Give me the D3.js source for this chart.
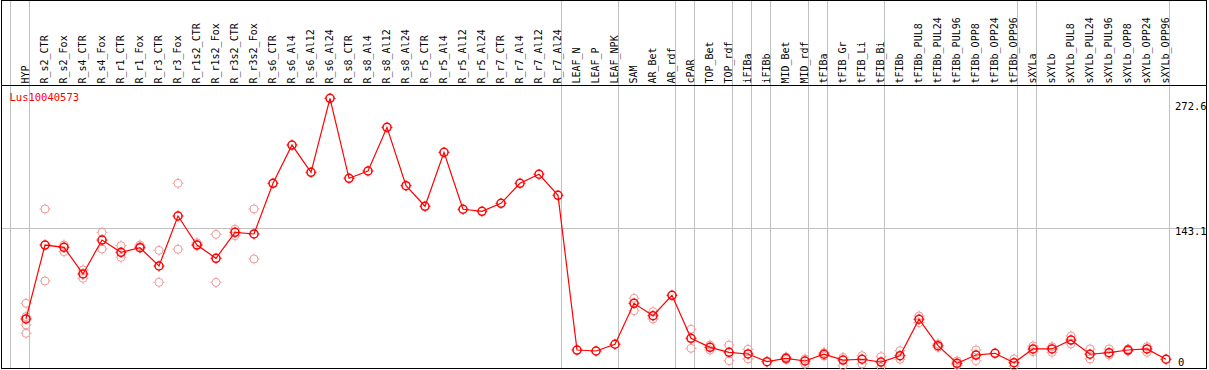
<!DOCTYPE html>
<html><head><meta charset="utf-8">
<script src="https://cdn.jsdelivr.net/npm/d3@7"></script>
<style>body{margin:0;background:#fff}svg{display:block}</style>
</head><body><svg id="c" width="1209" height="370"></svg>
<script>
const title = "Lus10040573";
const categories = ["HYP","R_s2_CTR","R_s2_Fox","R_s4_CTR","R_s4_Fox","R_r1_CTR","R_r1_Fox","R_r3_CTR","R_r3_Fox","R_r1s2_CTR","R_r1s2_Fox","R_r3s2_CTR","R_r3s2_Fox","R_s6_CTR","R_s6_Al4","R_s6_Al12","R_s6_Al24","R_s8_CTR","R_s8_Al4","R_s8_Al12","R_s8_Al24","R_r5_CTR","R_r5_Al4","R_r5_Al12","R_r5_Al24","R_r7_CTR","R_r7_Al4","R_r7_Al12","R_r7_Al24","LEAF_N","LEAF_P","LEAF_NPK","SAM","AR_Bet","AR_rdf","cPAR","TOP_Bet","TOP_rdf","iFIBa","iFIBb","MID_Bet","MID_rdf","tFIBa","tFIB_Gr","tFIB_Li","tFIB_Bi","tFIBb","tFIBb_PUL8","tFIBb_PUL24","tFIBb_PUL96","tFIBb_OPP8","tFIBb_OPP24","tFIBb_OPP96","sXYLa","sXYLb","sXYLb_PUL8","sXYLb_PUL24","sXYLb_PUL96","sXYLb_OPP8","sXYLb_OPP24","sXYLb_OPP96"];
const means = [48.5,125.4,123.0,95.3,130.6,117.8,122.6,103.6,155.6,125.4,111.6,138.6,136.9,189.6,229.4,201.0,278.0,194.8,202.4,247.8,187.1,165.7,221.8,162.6,160.5,168.8,189.6,199.0,177.1,16.2,15.2,22.2,64.8,51.9,73.1,28.4,19.0,13.8,12.1,4.1,7.6,4.8,11.8,5.8,6.6,3.7,10.3,48.2,20.7,2.4,11.0,12.8,3.0,17.3,17.3,26.6,11.8,13.4,16.2,17.3,6.6];
const replicates = [[64.8,50.9,42.2,33.6],[162.9,88.0],[125.4,118.5],[99.5,90.8],[138.6,121.3],[124.7,112.6],[125.4,123.7],[119.9,86.6],[189.6,121.0],[127.8,125.4],[136.6,86.6],[141.8,135.1],[162.9,110.9],[],[],[],[],[],[],[],[],[],[],[],[],[],[],[],[],[],[],[],[70.0,57.1],[56.1,48.5],[],[37.8,18.0],[21.4,16.2],[21.4,5.1],[17.0,6.9],[],[8.9,6.3],[6.9,1.7],[13.6,10.0],[8.6,0.0],[10.3,1.7],[9.3,-1.5],[15.5,6.6],[51.6,44.6],[22.5,19.0],[4.8,0.6],[16.2,5.1],[],[6.9,-0.4],[20.4,14.5],[19.7,13.8],[30.8,22.5],[17.3,6.9],[17.3,11.0],[17.3,15.2],[19.7,13.8],[]];
const yTicks = [0, 143.1, 272.6];
const gridTick = 143.1;
const groupStarts = [0,1,29,32,35,36,38,39,40,42,43,46,53,54,61];

const svg = d3.select("#c");
const x = d3.scaleBand().domain(categories).range([11, 11 + 19*categories.length]).padding(0);
const px = c => x(c) + 15;
const y = d3.scaleLinear().domain([0, 272.6]).range([365.6, 103.5]);
const font = "'DejaVu Sans Mono', monospace";

// group separators
svg.append("g").selectAll("line").data(groupStarts).join("line")
  .attr("x1", k => 11 + 19*k - 0.5).attr("x2", k => 11 + 19*k - 0.5)
  .attr("y1", 0).attr("y2", 369)
  .attr("stroke", "#c0c0c0").attr("stroke-width", 1);

// horizontal grid line
svg.append("line").attr("x1", 1).attr("x2", 1207)
  .attr("y1", Math.round(y(gridTick)) + 0.5).attr("y2", Math.round(y(gridTick)) + 0.5)
  .attr("stroke", "#c0c0c0");

// border and header line
svg.append("rect").attr("x", 1.5).attr("y", 0.5).attr("width", 1205).attr("height", 368)
  .attr("fill", "none").attr("stroke", "#000");
svg.append("line").attr("x1", 1).attr("x2", 1207).attr("y1", 85.5).attr("y2", 85.5).attr("stroke", "#000");

// category labels
svg.append("g").selectAll("text").data(categories).join("text")
  .attr("transform", c => `translate(${x(c) + 18},83.5) rotate(-90)`)
  .attr("font-family", font).attr("font-size", 10).attr("fill", "#000")
  .text(c => c);

// y tick labels
svg.append("g").selectAll("text").data(yTicks).join("text")
  .attr("x", d => d === 0 ? 1178 : 1175)
  .attr("y", d => Math.min(y(d) + 6.5, 365.5))
  .attr("font-family", font).attr("font-size", 10.5).attr("fill", "#000")
  .text(d => d === 0 ? "0" : d3.format(".1f")(d));

// title
svg.append("text").attr("x", 9.5).attr("y", 101).attr("font-family", font)
  .attr("font-size", 10.5).attr("fill", "#ff0000").text(title);

function marker(g, cx, cy, color, sw) {
  g.append("circle").attr("cx", cx).attr("cy", cy).attr("r", 4)
    .attr("fill", "none").attr("stroke", color).attr("stroke-width", sw);
  const t = [[0,-4,0,-5.5],[0,4,0,5.5],[-4,0,-5.5,0],[4,0,5.5,0]];
  t.forEach(s => g.append("line").attr("x1", cx+s[0]).attr("y1", cy+s[1]).attr("x2", cx+s[2]).attr("y2", cy+s[3])
    .attr("stroke", color).attr("stroke-width", 1));
}

// replicates
const rg = svg.append("g");
replicates.forEach((reps, i) => reps.forEach(v => marker(rg, px(categories[i]), y(v), "#f29a9a", 1)));

// mean line
svg.append("path").datum(means)
  .attr("d", d3.line().x((d, i) => px(categories[i])).y(d => y(d)))
  .attr("fill", "none").attr("stroke", "#ff0000").attr("stroke-width", 1.2);

const mg = svg.append("g");
means.forEach((v, i) => marker(mg, px(categories[i]), y(v), "#ff0000", 1.5));
</script></body></html>
